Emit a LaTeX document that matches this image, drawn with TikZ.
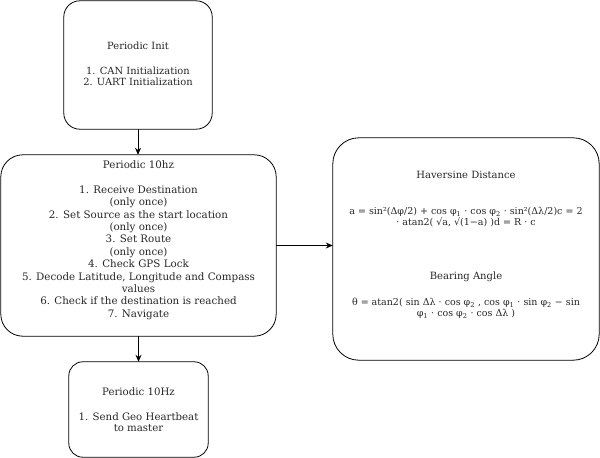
\documentclass[tikz,border=0pt]{standalone}
\usepackage{fontspec}
\setmainfont{DejaVu Serif}
\usetikzlibrary{arrows.meta}
\begin{document}
\begin{tikzpicture}[x=1pt,y=-1pt,
  box/.style={draw=black,line width=0.8pt,rounded corners=#1},
  box/.default=15pt,
  txt/.style={align=center,inner sep=0pt,text=black!85},
  conn/.style={draw=black,line width=0.8pt,-{Stealth[length=7pt,width=6pt]}}]
\useasboundingbox (0,0) rectangle (600,458);
% boxes
\node[minimum width=148pt,minimum height=128pt,inner sep=0pt] (b1) at (138,65) {};
\draw[box=16pt] (b1.south west) rectangle (b1.north east);
\node[minimum width=275pt,minimum height=181pt,inner sep=0pt] (b2) at (138.5,245.5) {};
\draw[box=22pt] (b2.south west) rectangle (b2.north east);
\node[minimum width=266pt,minimum height=222pt,inner sep=0pt] (b3) at (466,249) {};
\draw[box=26pt] (b3.south west) rectangle (b3.north east);
\node[minimum width=139pt,minimum height=95pt,inner sep=0pt] (b4) at (138.5,409.5) {};
\draw[box=14pt] (b4.south west) rectangle (b4.north east);
% texts
\node[txt,font=\fontsize{9.9}{11}\selectfont] (t1) at (138,64) {Periodic Init\\[14pt]1. CAN Initialization\\2. UART Initialization};
\node[txt,font=\fontsize{10.3}{12.4}\selectfont] (t2) at (138.5,240) {Periodic 10hz\\[12.6pt]1. Receive Destination\\(only once)\\2. Set Source as the start location\\(only once)\\3. Set Route\\(only once)\\4. Check GPS Lock\\5. Decode Latitude, Longitude and Compass\\values\\6. Check if the destination is reached\\7. Navigate};
\node[txt,font=\fontsize{10}{11}\selectfont] (t3a) at (466,175) {Haversine Distance};
\node[txt,font=\fontsize{9.5}{10.5}\selectfont] (t3b) at (466,217) {a = sin²(Δφ/2) + cos φ\textsubscript{1} · cos φ\textsubscript{2} · sin²(Δλ/2)c = 2\\· atan2( √a, √(1−a) )d = R · c};
\node[txt,font=\fontsize{10}{11}\selectfont] (t3c) at (466,277) {Bearing Angle};
\node[txt,font=\fontsize{9.5}{10.5}\selectfont] (t3d) at (466,308.5) {θ = atan2( sin Δλ · cos φ\textsubscript{2} , cos φ\textsubscript{1} · sin φ\textsubscript{2} − sin\\φ\textsubscript{1} · cos φ\textsubscript{2} · cos Δλ )};
\node[txt,font=\fontsize{10.2}{11}\selectfont] (t4) at (138.5,410) {Periodic 10Hz\\[14pt]1. Send Geo Heartbeat\\to master};
% connectors
\draw[conn] (b1.south) -- (b1.south |- b2.north);
\draw[conn] (b2.south) -- (b4.north);
\draw[conn] (b2.east) -- (b2.east -| b3.west);
\end{tikzpicture}
\end{document}
